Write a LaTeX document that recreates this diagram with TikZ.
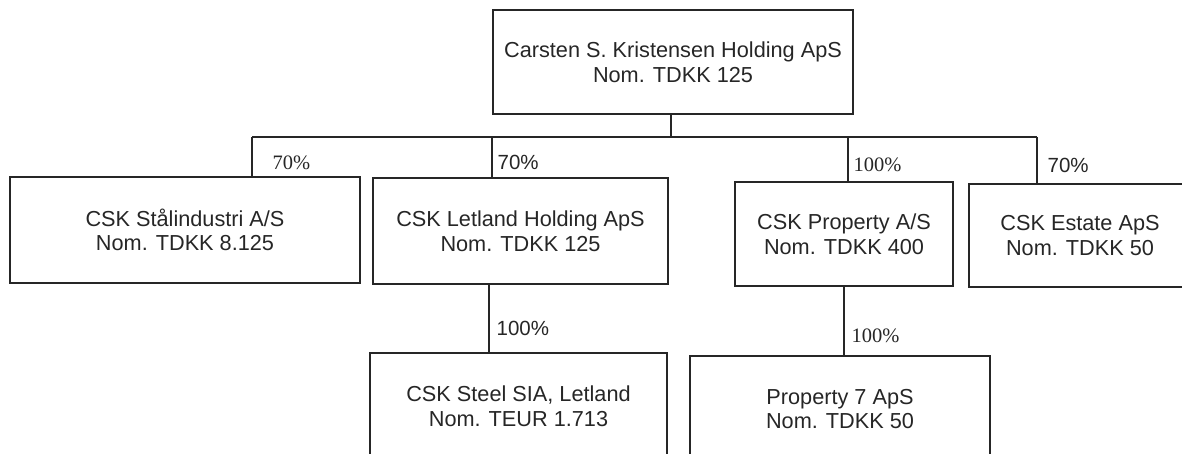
\documentclass[tikz,border=0pt]{standalone}
\usepackage{fontspec}
\setmainfont{Liberation Sans}
\newfontfamily\timesfont{Liberation Serif}
\begin{document}
\begin{tikzpicture}[x=1pt,y=-1pt,line width=1.3pt,color=black!85,
  firm/.style={draw,inner sep=0pt,align=center,font=\fontsize{21.7}{24.5}\selectfont},
  pct/.style={anchor=west,inner sep=0pt,font=\fontsize{20.5}{24}\selectfont},
  pcttimes/.style={pct,font=\timesfont\fontsize{20.5}{24}\selectfont}]
 \useasboundingbox (0,0) rectangle (1182,454);
 \clip (0,0) rectangle (1182,454);
 \node[firm,minimum width=360pt,minimum height=104pt] (top) at (673,62) {Carsten S. Kristensen Holding ApS\\Nom. TDKK 125};
 \node[firm,minimum width=350pt,minimum height=106pt] (stal) at (185,230) {CSK Stålindustri A/S\\Nom. TDKK 8.125};
 \node[firm,minimum width=295pt,minimum height=106pt] (letland) at (520.5,231) {CSK Letland Holding ApS\\Nom. TDKK 125};
 \node[firm,minimum width=218pt,minimum height=104pt] (prop) at (844,234) {CSK Property A/S\\Nom. TDKK 400};
 \node[firm,minimum width=222pt,minimum height=103pt] (estate) at (1080,235.5) {CSK Estate ApS\\Nom. TDKK 50};
 \node[firm,minimum width=297pt,minimum height=106pt] (steel) at (518.5,406) {CSK Steel SIA, Letland\\Nom. TEUR 1.713};
 \node[firm,minimum width=300pt,minimum height=106pt] (p7) at (840,409) {Property 7 ApS\\Nom. TDKK 50};
 \coordinate (j0) at (671,137);
 \coordinate (j1) at (252,137);
 \coordinate (j2) at (492,137);
 \coordinate (j3) at (848,137);
 \coordinate (j4) at (1037,137);
 \coordinate (k1) at (489,300);
 \draw (j0 |- top.south) -- (j0);
 \draw (j1) -- (j4);
 \foreach \j/\b in {j1/stal,j2/letland,j3/prop,j4/estate}
 \draw (\j) -- (\j |- \b.north);
 \draw (k1 |- letland.south) -- (k1 |- steel.north);
 \draw (prop.south) -- (prop.south |- p7.north);
 \node[pcttimes] (l1) at (272,163) {70\%};
 \node[pct] (l2) at (497,162) {70\%};
 \node[pcttimes] (l3) at (853,165) {100\%};
 \node[pct] (l4) at (1047,165) {70\%};
 \node[pct] (l5) at (496,328) {100\%};
 \node[pcttimes] (l6) at (851,336) {100\%};
\end{tikzpicture}
\end{document}
